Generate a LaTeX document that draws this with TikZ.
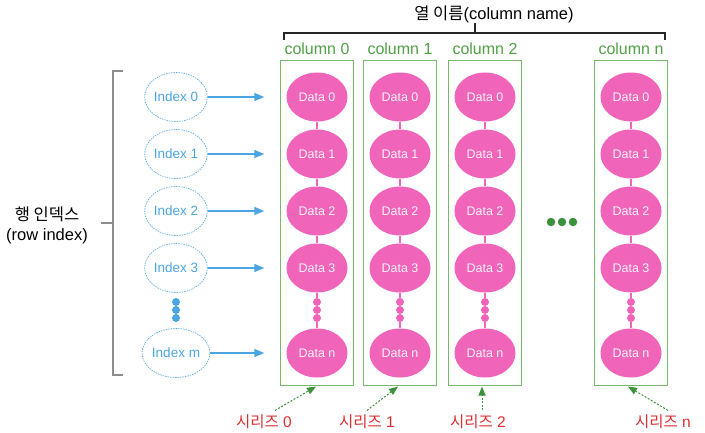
\documentclass[tikz,border=0pt]{standalone}
\usepackage{fontspec}
\setmainfont{Liberation Sans}
\newfontfamily\kr{Noto Sans CJK KR}
\usetikzlibrary{arrows.meta,shapes.geometric}
\definecolor{dpink}{RGB}{240,100,185}
\definecolor{iblue}{RGB}{75,165,225}
\definecolor{gbox}{RGB}{120,185,110}
\definecolor{gtext}{RGB}{80,160,70}
\definecolor{gdark}{RGB}{60,145,60}
\definecolor{sred}{RGB}{220,45,50}
\definecolor{brk}{RGB}{140,140,140}
\begin{document}
\begin{tikzpicture}[x=1pt,y=-1pt,
  dataell/.style={ellipse, fill=dpink, minimum width=61pt, minimum height=49pt, inner sep=0pt,
    text=white!92!dpink, font=\fontsize{12.5}{14}\selectfont},
  idxell/.style={ellipse, draw=iblue, line width=0.6pt, dash pattern=on 1.5pt off 1pt,
    minimum width=62pt, minimum height=49pt, inner sep=0pt, text=iblue, font=\fontsize{13.5}{15}\selectfont},
  colbox/.style={rectangle, draw=gbox, line width=1pt, minimum width=73pt, minimum height=325pt, inner sep=0pt},
  collab/.style={text=gtext, font=\fontsize{16}{18}\selectfont},
  serlab/.style={text=sred, font=\fontsize{15.5}{17}\selectfont},
  pinkline/.style={draw=dpink, line width=1.4pt},
  pinkdot/.style={circle, fill=dpink, minimum size=8pt, inner sep=0pt},
  bluedot/.style={circle, fill=iblue, minimum size=8pt, inner sep=0pt},
  greendot/.style={circle, fill=gdark, minimum size=8.5pt, inner sep=0pt},
  iarrow/.style={draw=iblue, line width=1.4pt, -{Triangle[length=10pt,width=8pt]}},
  sarrow/.style={draw=gdark, line width=1pt, dash pattern=on 2pt off 1.6pt, -{Triangle[length=9pt,width=7pt]}},
  bracket/.style={draw=brk, line width=1.3pt},
  topbracket/.style={draw=black!85, line width=1.3pt}
]
\useasboundingbox (0,0) rectangle (705,432);

% title and top bracket
\node[font=\fontsize{16.5}{18}\selectfont] (title) at (494,14) {{\kr 열 이름}(column name)};
\draw[topbracket] (284,40) -- (284,33) -- (665,33) -- (665,40);
\draw[topbracket] (475,33) -- (475,23);

% column boxes and labels
\foreach \c/\x/\lab in {0/317/column 0, 1/400/column 1, 2/485/column 2, n/631/column n}{
  \node[colbox] (b\c) at (\x,222.5) {};
  \node[collab] (cl\c) at (\x,49) {\lab};
  \foreach \r/\y/\t in {0/97/Data 0, 1/154/Data 1, 2/211/Data 2, 3/268/Data 3, m/353/Data n}{
    \node[dataell] (d\c-\r) at (\x,\y) {\t};
  }
  \node[pinkdot] (pa\c) at (\x,302) {};
  \node[pinkdot] (pb\c) at (\x,310) {};
  \node[pinkdot] (pc\c) at (\x,318) {};
  \draw[pinkline] (d\c-0.south) -- (d\c-1.north);
  \draw[pinkline] (d\c-1.south) -- (d\c-2.north);
  \draw[pinkline] (d\c-2.south) -- (d\c-3.north);
  \draw[pinkline] (d\c-3.south) -- (pa\c.north);
  \draw[pinkline] (pc\c.south) -- (d\c-m.north);
}

% index ellipses and arrows
\foreach \r/\y/\t in {0/97/Index 0, 1/154/Index 1, 2/211/Index 2, 3/268/Index 3, m/353/Index m}{
  \node[idxell] (i\r) at (176,\y) {\t};
  \draw[iarrow, shorten >=22pt] (i\r.east) -- (d0-\r.west);
}
\node[bluedot] (ba) at (176,302) {};
\node[bluedot] (bb) at (176,310) {};
\node[bluedot] (bc) at (176,318) {};

% green dots between columns
\node[greendot] (g1) at (551,222) {};
\node[greendot] (g2) at (562,222) {};
\node[greendot] (g3) at (573,222) {};

% left bracket and row index label
\draw[bracket] (123,71) -- (113,71) -- (113,375) -- (123,375);
\draw[bracket] (113,223) -- (101,223);
\node[font=\fontsize{16.5}{20}\selectfont, align=center] (rowlab) at (47,225) {{\kr 행 인덱스}\\(row index)};

% series labels and arrows
\node[serlab] (s0) at (264,422) {{\kr 시리즈} 0};
\node[serlab] (s1) at (367,422) {{\kr 시리즈} 1};
\node[serlab] (s2) at (478,422) {{\kr 시리즈} 2};
\node[serlab] (sn) at (663,422) {{\kr 시리즈} n};
\draw[sarrow] ([xshift=11pt,yshift=1pt]s0.north) -- ([xshift=-1pt,yshift=-1pt]b0.south);
\draw[sarrow] ([yshift=1pt]s1.north) -- ([xshift=-2pt,yshift=-1pt]b1.south);
\draw[sarrow] ([xshift=4pt,yshift=1pt]s2.north) -- ([xshift=-3pt,yshift=-1pt]b2.south);
\draw[sarrow] ([xshift=5pt,yshift=1pt]sn.north) -- ([xshift=-3pt,yshift=-1pt]bn.south);
\end{tikzpicture}
\end{document}
